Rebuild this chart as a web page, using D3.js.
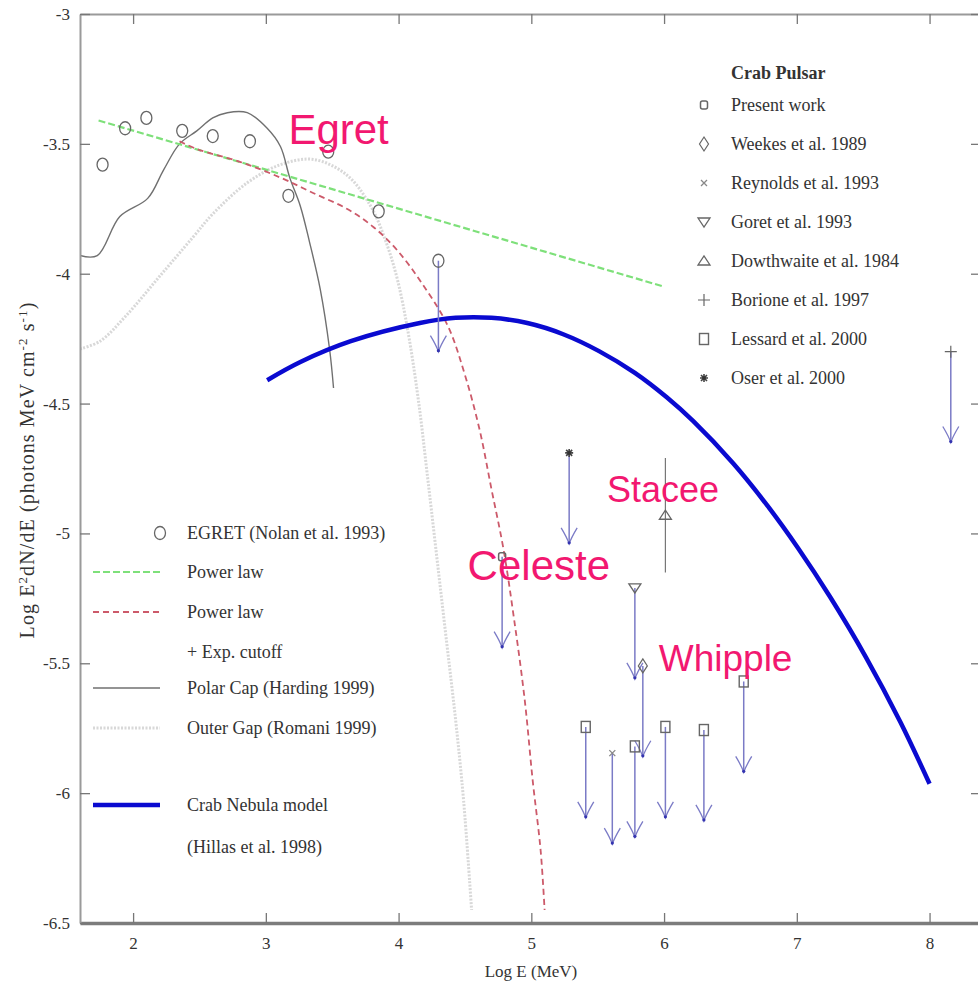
<!DOCTYPE html>
<html>
<head>
<meta charset="utf-8">
<script src="https://cdn.jsdelivr.net/npm/d3@7"></script>
<style>
  html, body { margin: 0; padding: 0; background: #fff; }
  svg { display: block; }
  .serif { font-family: "Liberation Serif", "DejaVu Serif", serif; fill: #333; }
  .note { font-family: "Liberation Sans", Arial, sans-serif; fill: #f21870; }
</style>
</head>
<body>
<svg id="chart" width="978" height="989"></svg>
<script>
// ---- Axis ticks ----
const xTicks = [2, 3, 4, 5, 6, 7, 8];
const yTicks = [-3, -3.5, -4, -4.5, -5, -5.5, -6, -6.5];

// ---- EGRET points (Nolan et al. 1993) ----
const egretE = [1.77, 1.94, 2.10, 2.37, 2.60, 2.88, 3.17, 3.47, 3.85];
const egretF = [-3.58, -3.44, -3.40, -3.45, -3.47, -3.49, -3.70, -3.53, -3.76];

// ---- Power law fit ----
const plE = [1.74, 6.00];
const plF = [-3.41, -4.05];

// ---- Power law + exponential cutoff ----
const cutE = [2.35, 2.48, 2.81, 3.11, 3.36, 3.61, 3.81, 3.99, 4.18, 4.37, 4.50, 4.61, 4.70, 4.79, 4.87, 4.95, 5.01, 5.07, 5.10];
const cutF = [-3.49, -3.52, -3.57, -3.63, -3.69, -3.75, -3.82, -3.91, -4.04, -4.20, -4.39, -4.60, -4.83, -5.06, -5.33, -5.64, -5.95, -6.22, -6.45];

// ---- Polar cap model (Harding) ----
const pcE = [1.60, 1.73, 1.90, 2.11, 2.23, 2.35, 2.48, 2.60, 2.71, 2.86, 3.01, 3.11, 3.18, 3.26, 3.33, 3.41, 3.48, 3.51];
const pcF = [-3.93, -3.93, -3.78, -3.71, -3.60, -3.50, -3.45, -3.40, -3.38, -3.38, -3.44, -3.51, -3.63, -3.74, -3.88, -4.06, -4.29, -4.44];

// ---- Outer gap model (Romani) ----
const ogE = [1.60, 1.75, 1.95, 2.20, 2.45, 2.60, 2.86, 3.11, 3.36, 3.61, 3.79, 3.90, 3.99, 4.07, 4.15, 4.22, 4.29, 4.36, 4.43, 4.49, 4.55];
const ogF = [-4.29, -4.26, -4.16, -4.01, -3.86, -3.77, -3.65, -3.58, -3.56, -3.62, -3.74, -3.87, -4.02, -4.22, -4.49, -4.79, -5.10, -5.41, -5.72, -6.03, -6.45];

// ---- Crab Nebula model (Hillas et al. 1998) ----
const nebE = [3.01, 3.26, 3.64, 4.16, 4.43, 4.70, 4.97, 5.24, 5.51, 5.78, 6.02, 6.22, 6.52, 6.78, 7.01, 7.25, 7.52, 7.78, 8.00];
const nebF = [-4.41, -4.34, -4.26, -4.19, -4.17, -4.17, -4.19, -4.233, -4.298, -4.382, -4.476, -4.568, -4.730, -4.894, -5.057, -5.244, -5.476, -5.726, -5.964];

// ---- Upper limits (symbol, log E, log flux) ----
const ulSymbol = ["egret", "present", "oser", "goret", "weekes", "lessard", "lessard", "lessard", "lessard", "lessard", "reynolds", "borione"];
const ulE = [4.30, 4.78, 5.285, 5.78, 5.84, 5.41, 5.78, 6.01, 6.30, 6.60, 5.61, 8.16];
const ulF = [-3.95, -5.09, -4.69, -5.21, -5.51, -5.745, -5.82, -5.745, -5.757, -5.57, -5.846, -4.30];
const ulDrop = 0.35;

// ---- Dowthwaite et al. 1984 measurement with error bar ----
const dowE = [6.01];
const dowF = [-4.93];
const dowLo = [-5.15];
const dowHi = [-4.71];

// ---- Legends ----
const pulsarRefs = ["Present work", "Weekes et al. 1989", "Reynolds et al. 1993", "Goret et al. 1993",
                    "Dowthwaite et al. 1984", "Borione et al. 1997", "Lessard et al. 2000", "Oser et al. 2000"];
const pulsarSyms = ["present", "weekes", "reynolds", "goret", "dowthwaite", "borione", "lessard", "oser"];
const modelLabels = ["EGRET (Nolan et al. 1993)", "Power law", "Power law", "+ Exp. cutoff",
                     "Polar Cap (Harding 1999)", "Outer Gap (Romani 1999)", "Crab Nebula model", "(Hillas et al. 1998)"];
const modelKeys = ["egret", "pl", "cut", "", "pc", "og", "neb", ""];

// ---- Experiment annotations ----
const noteText = ["Egret", "Celeste", "Stacee", "Whipple"];
const noteE = [3.17, 4.52, 5.57, 5.96];
const noteF = [-3.50, -5.18, -4.88, -5.53];
const noteSize = [42, 42, 36, 37];

const svg = d3.select("#chart");
const x = d3.scaleLinear().domain([1.6, 8.38]).range([80, 980]);
const y = d3.scaleLinear().domain([-3, -6.5]).range([14, 923]);

svg.append("defs").append("clipPath").attr("id", "plotClip")
  .append("rect").attr("x", x(1.6)).attr("y", y(-3)).attr("width", x(8.38) - x(1.6)).attr("height", y(-6.5) - y(-3));

const plot = svg.append("g").attr("clip-path", "url(#plotClip)");

const zip = (a, b) => a.map((v, i) => [v, b[i]]);
const line = d3.line().x(d => x(d[0])).y(d => y(d[1])).curve(d3.curveCatmullRom.alpha(0.5));

const ogStyle = s => s.attr("stroke", "#d8d8d8").attr("stroke-width", 3).attr("stroke-dasharray", "2,1.5");
const pcStyle = s => s.attr("stroke", "#707070").attr("stroke-width", 1.4);
const plStyle = s => s.attr("stroke", "#7ee07a").attr("stroke-width", 2.2).attr("stroke-dasharray", "7,3");
const cutStyle = s => s.attr("stroke", "#cc5a6a").attr("stroke-width", 1.8).attr("stroke-dasharray", "6,4");
const nebStyle = s => s.attr("stroke", "#0a0ad0").attr("stroke-width", 4.5);

// Model curves
plot.append("path").datum(zip(ogE, ogF)).attr("d", line).attr("fill", "none").call(ogStyle);
plot.append("path").datum(zip(pcE, pcF)).attr("d", line).attr("fill", "none").call(pcStyle);
plot.append("path").datum(zip(plE, plF)).attr("d", line).attr("fill", "none").call(plStyle);
plot.append("path").datum(zip(cutE, cutF)).attr("d", line).attr("fill", "none").call(cutStyle);
plot.append("path").datum(zip(nebE, nebF)).attr("d", line).attr("fill", "none").call(nebStyle);

// Symbol drawer
function drawSymbol(g, kind, cx, cy) {
  const s = "#666";
  switch (kind) {
    case "egret":
      g.append("ellipse").attr("cx", cx).attr("cy", cy).attr("rx", 5.5).attr("ry", 6.5)
        .attr("fill", "none").attr("stroke", s).attr("stroke-width", 1.3); break;
    case "present":
      g.append("rect").attr("x", cx - 3.5).attr("y", cy - 4).attr("width", 7).attr("height", 8).attr("rx", 2)
        .attr("fill", "none").attr("stroke", s).attr("stroke-width", 1.5); break;
    case "weekes":
      g.append("path").attr("d", `M${cx},${cy - 7}L${cx + 4.5},${cy}L${cx},${cy + 7}L${cx - 4.5},${cy}Z`)
        .attr("fill", "none").attr("stroke", s).attr("stroke-width", 1.2); break;
    case "reynolds":
      g.append("path").attr("d", `M${cx - 3},${cy - 3}L${cx + 3},${cy + 3}M${cx + 3},${cy - 3}L${cx - 3},${cy + 3}`)
        .attr("stroke", "#888").attr("stroke-width", 1.3); break;
    case "goret":
      g.append("path").attr("d", `M${cx - 6},${cy - 4}L${cx + 6},${cy - 4}L${cx},${cy + 5}Z`)
        .attr("fill", "none").attr("stroke", s).attr("stroke-width", 1.3); break;
    case "dowthwaite":
      g.append("path").attr("d", `M${cx - 6},${cy + 4}L${cx + 6},${cy + 4}L${cx},${cy - 5}Z`)
        .attr("fill", "none").attr("stroke", s).attr("stroke-width", 1.3); break;
    case "borione":
      g.append("path").attr("d", `M${cx - 6},${cy}L${cx + 6},${cy}M${cx},${cy - 6}L${cx},${cy + 6}`)
        .attr("stroke", s).attr("stroke-width", 1.2); break;
    case "lessard":
      g.append("rect").attr("x", cx - 4.5).attr("y", cy - 5.5).attr("width", 9).attr("height", 11)
        .attr("fill", "none").attr("stroke", s).attr("stroke-width", 1.4); break;
    case "oser":
      g.append("path").attr("d", `M${cx - 4},${cy}L${cx + 4},${cy}M${cx},${cy - 4}L${cx},${cy + 4}M${cx - 3},${cy - 3}L${cx + 3},${cy + 3}M${cx + 3},${cy - 3}L${cx - 3},${cy + 3}`)
        .attr("stroke", "#444").attr("stroke-width", 1.6);
      g.append("circle").attr("cx", cx).attr("cy", cy).attr("r", 1.8).attr("fill", "#333"); break;
  }
}

// Upper limit arrows
const arrowCol = "#7b7bc6";
ulE.forEach((e, i) => {
  const px = x(e), y0 = y(ulF[i]), y1 = y(ulF[i] - ulDrop);
  plot.append("line").attr("x1", px).attr("x2", px).attr("y1", y0).attr("y2", y1)
    .attr("stroke", arrowCol).attr("stroke-width", 1.5);
  plot.append("path").attr("d", `M${px - 8},${y1 - 16}Q${px - 2},${y1 - 6} ${px},${y1}Q${px + 2},${y1 - 6} ${px + 8},${y1 - 16}`)
    .attr("fill", "none").attr("stroke", arrowCol).attr("stroke-width", 1.3);
  plot.append("circle").attr("cx", px).attr("cy", y1 - 1).attr("r", 1.6).attr("fill", "#3434b0");
});

// Dowthwaite error bar + point
dowE.forEach((e, i) => {
  plot.append("line").attr("x1", x(e)).attr("x2", x(e)).attr("y1", y(dowHi[i])).attr("y2", y(dowLo[i]))
    .attr("stroke", "#777").attr("stroke-width", 1.2);
  drawSymbol(plot, "dowthwaite", x(e), y(dowF[i]));
});

// EGRET points and upper-limit symbols
egretE.forEach((e, i) => drawSymbol(plot, "egret", x(e), y(egretF[i])));
ulE.forEach((e, i) => drawSymbol(plot, ulSymbol[i], x(e), y(ulF[i])));

// Axes: ticks point inward on all four sides
const axB = svg.append("g").attr("transform", `translate(0,${y(-6.5)})`)
  .call(d3.axisBottom(x).tickValues(xTicks).tickSizeInner(-10).tickSizeOuter(0).tickPadding(14).tickFormat(d3.format("d")));
const axT = svg.append("g").attr("transform", `translate(0,${y(-3)})`)
  .call(d3.axisTop(x).tickValues(xTicks).tickSizeInner(-10).tickSizeOuter(0).tickFormat(""));
const axL = svg.append("g").attr("transform", `translate(${x(1.6)},0)`)
  .call(d3.axisLeft(y).tickValues(yTicks).tickSizeInner(-10).tickSizeOuter(0).tickPadding(10).tickFormat(d => String(d)));
const axR = svg.append("g").attr("transform", `translate(${x(8.38) - 1},0)`)
  .call(d3.axisRight(y).tickValues(yTicks).tickSizeInner(-8).tickSizeOuter(0).tickFormat(""));

[axB, axT, axL, axR].forEach(a => {
  a.selectAll(".tick line").attr("stroke", "#777").attr("stroke-width", 1.3);
  a.selectAll("text").attr("class", "serif").attr("font-size", 17).attr("fill", "#333");
});
axB.select(".domain").attr("stroke", "#7c7c7c").attr("stroke-width", 3.5);
axT.select(".domain").attr("stroke", "#9a9a9a").attr("stroke-width", 2);
axL.select(".domain").attr("stroke", "#9a9a9a").attr("stroke-width", 2);
axR.select(".domain").attr("stroke", "#9a9a9a").attr("stroke-width", 2);

// Axis titles
svg.append("text").attr("class", "serif").attr("x", 531).attr("y", 977)
  .attr("text-anchor", "middle").attr("font-size", 17).text("Log E (MeV)");

const yt = svg.append("text").attr("class", "serif").attr("font-size", 20).attr("letter-spacing", 1.1)
  .attr("transform", "translate(34,470) rotate(-90)").attr("text-anchor", "middle");
yt.append("tspan").text("Log E");
yt.append("tspan").attr("dy", -7).attr("font-size", 13).text("2");
yt.append("tspan").attr("dy", 7).text("dN/dE (photons MeV cm");
yt.append("tspan").attr("dy", -7).attr("font-size", 13).text("-2");
yt.append("tspan").attr("dy", 7).text(" s");
yt.append("tspan").attr("dy", -7).attr("font-size", 13).text("-1");
yt.append("tspan").attr("dy", 7).text(")");

// Crab Pulsar legend (top right)
const lg1 = svg.append("g");
lg1.append("text").attr("class", "serif").attr("x", 731).attr("y", 79)
  .attr("font-size", 18).attr("font-weight", "bold").attr("fill", "#222").text("Crab Pulsar");
pulsarRefs.forEach((t, i) => {
  const cy = 105 + i * 39;
  drawSymbol(lg1, pulsarSyms[i], 704, cy);
  lg1.append("text").attr("class", "serif").attr("x", 731).attr("y", cy + 6).attr("font-size", 18).text(t);
});

// Model legend (bottom left)
const lg2 = svg.append("g");
const rowY = [533, 572, 612, 652, 688, 728, 805, 847];
const swatch = { pl: plStyle, cut: cutStyle, pc: pcStyle, og: ogStyle, neb: nebStyle };
modelLabels.forEach((t, i) => {
  const cy = rowY[i];
  lg2.append("text").attr("class", "serif").attr("x", 187).attr("y", cy + 6).attr("font-size", 18).text(t);
  const k = modelKeys[i];
  if (k === "egret") drawSymbol(lg2, "egret", 160, cy);
  if (swatch[k]) {
    lg2.append("line").attr("x1", 93).attr("x2", 160).attr("y1", cy).attr("y2", cy).call(swatch[k]);
  }
});

// Experiment annotations
noteText.forEach((t, i) => {
  svg.append("text").attr("class", "note").attr("x", x(noteE[i])).attr("y", y(noteF[i]))
    .attr("font-size", noteSize[i]).text(t);
});
</script>
</body>
</html>
